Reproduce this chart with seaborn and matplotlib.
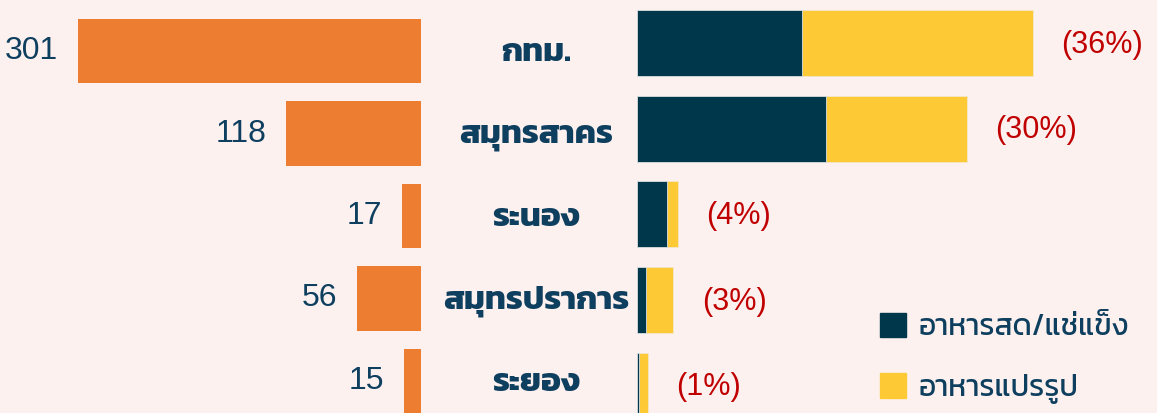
import matplotlib
matplotlib.use("Agg")
import matplotlib.pyplot as plt
import matplotlib.transforms as mtrans
from matplotlib.patches import Patch
import pandas as pd
import seaborn as sns

# data
provinces = ["กทม.", "สมุทรสาคร", "ระนอง", "สมุทรปราการ", "ระยอง"]
counts = [301, 118, 17, 56, 15]
share_labels = ["(36%)", "(30%)", "(4%)", "(3%)", "(1%)"]
fresh_pct = [15.0, 17.2, 2.7, 0.8, 0.2]
processed_pct = [21.0, 12.8, 1.0, 2.5, 0.8]
legend_labels = ["อาหารสด/แช่แข็ง", "อาหารแปรรูป"]

BG = "#fdf1f0"
ORANGE = "#ed7d31"
NAVY = "#01374a"
YELLOW = "#fdca36"
RED = "#c00000"
TEXT = "#0e3f5f"

sns.set_theme(style="white")
plt.rcParams["font.family"] = ["Kanit", "Liberation Sans", "DejaVu Sans"]

df = pd.DataFrame({"province": provinces, "count": counts,
                   "fresh": fresh_pct, "processed": processed_pct})
df["total"] = df["fresh"] + df["processed"]

W, H = 1157, 413
fig = plt.figure(figsize=(W / 100, H / 100), dpi=100, facecolor=BG)

# left: orange counts, growing leftwards
ax_l = fig.add_axes([0, 0, 421 / W, 1])
sns.barplot(data=df, x="count", y="province", color=ORANGE, saturation=1,
            width=0.78, linewidth=0, ax=ax_l)
ax_l.set_xlim(369, 0)
ax_l.set_ylim(4.39, -0.62)
for i, c in enumerate(counts):
    ax_l.text(c + 17, i, str(c), ha="right", va="center", fontsize=23,
              color=TEXT, family=["Liberation Sans"])

# province names in the middle
tr = mtrans.blended_transform_factory(fig.transFigure, ax_l.transData)
for i, p in enumerate(provinces):
    ax_l.text(536 / W, i + 0.03, p, transform=tr, ha="center", va="center",
              fontsize=24, fontweight="bold", color=TEXT, family=["Kanit"])

# right: stacked shares (total in yellow, fresh drawn over it)
ax_r = fig.add_axes([637 / W, 0, 520 / W, 1])
sns.barplot(data=df, x="total", y="province", color=YELLOW, saturation=1,
            width=0.77, linewidth=0.6, edgecolor="#f3e6c8", ax=ax_r)
sns.barplot(data=df, x="fresh", y="province", color=NAVY, saturation=1,
            width=0.77, linewidth=0.6, edgecolor="#d8e0e4", ax=ax_r)
ax_r.set_xlim(0, 520 / 11)
ax_r.set_ylim(4.32, -0.5)
for i, (t, lab) in enumerate(zip(df["total"], share_labels)):
    ax_r.text(t + 2.6, i + 0.02, lab, ha="left", va="center", fontsize=22,
              color=RED, family=["Liberation Sans"])

for ax in (ax_l, ax_r):
    ax.set_facecolor(BG)
    ax.axis("off")

fig.legend(handles=[Patch(color=NAVY), Patch(color=YELLOW)],
           labels=legend_labels, loc="upper left",
           bbox_to_anchor=(880 / W, 1 - 313 / H), frameon=False,
           borderpad=0, borderaxespad=0,
           prop={"family": "Kanit", "size": 21.5}, labelcolor=TEXT,
           handlelength=0.87, handleheight=0.87, handletextpad=0.43,
           labelspacing=1.07)

fig.savefig("out.png", dpi=100, facecolor=BG)
